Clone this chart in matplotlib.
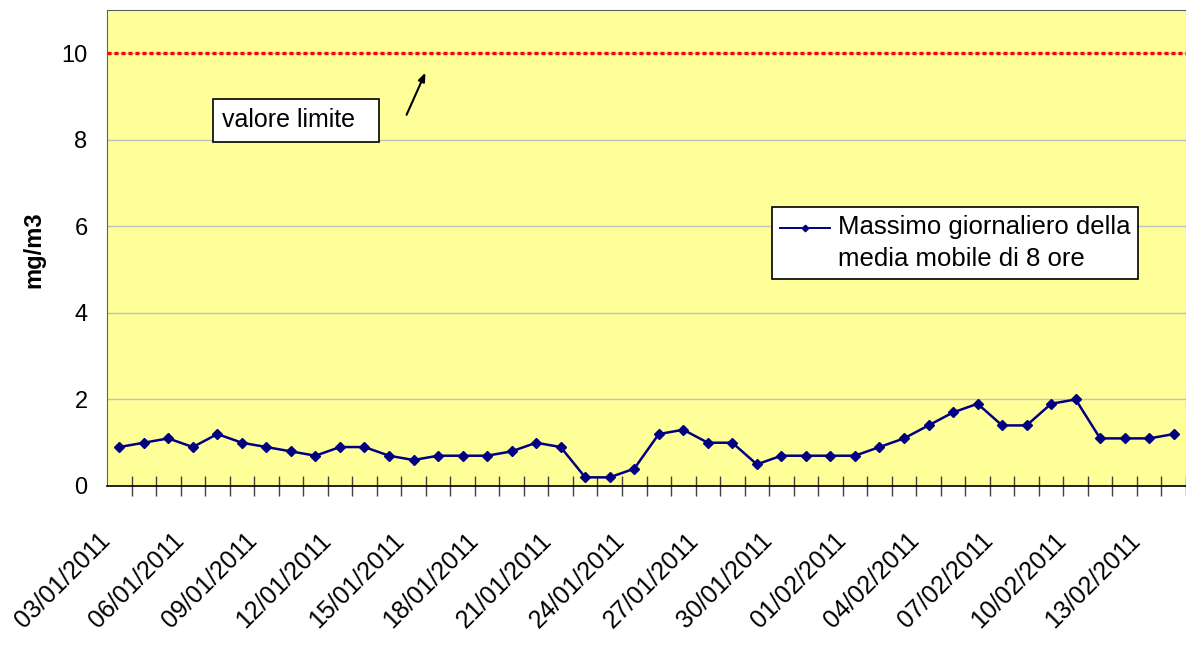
import matplotlib
matplotlib.use("Agg")
import matplotlib.pyplot as plt
from matplotlib.legend_handler import HandlerLine2D
from matplotlib.transforms import ScaledTranslation

plt.rcParams['font.family'] = ['Liberation Sans', 'DejaVu Sans']

# daily max of the 8-hour moving average (mg/m3)
values = [0.9, 1.0, 1.1, 0.9, 1.2, 1.0, 0.9, 0.8, 0.7, 0.9, 0.9, 0.7, 0.6, 0.7,
          0.7, 0.7, 0.8, 1.0, 0.9, 0.2, 0.2, 0.4, 1.2, 1.3, 1.0, 1.0, 0.5, 0.7,
          0.7, 0.7, 0.7, 0.9, 1.1, 1.4, 1.7, 1.9, 1.4, 1.4, 1.9, 2.0, 1.1, 1.1,
          1.1, 1.2]
tick_labels = ['03/01/2011', '06/01/2011', '09/01/2011', '12/01/2011', '15/01/2011',
               '18/01/2011', '21/01/2011', '24/01/2011', '27/01/2011', '30/01/2011',
               '01/02/2011', '04/02/2011', '07/02/2011', '10/02/2011', '13/02/2011']
limit_value = 10
series_name = 'Massimo giornaliero della\nmedia mobile di 8 ore'


class FirstLineHandler(HandlerLine2D):
    # put the legend key next to the first line of a two-line label
    def create_artists(self, legend, orig_handle, xdescent, ydescent,
                       width, height, fontsize, trans):
        return super().create_artists(legend, orig_handle, xdescent,
                                      ydescent - 1.25 * fontsize, width, height,
                                      fontsize, trans)


fig = plt.figure(figsize=(11.86, 6.5), dpi=100)
ax = fig.add_axes([107 / 1186, 1 - 486 / 650, 1079 / 1186, 476 / 650])
ax.set_facecolor('#FFFF99')

x = list(range(len(values)))
line, = ax.plot(x, values, color='#000080', lw=1.8, marker='D', markersize=5.5,
                label=series_name, zorder=3)

# limit line
ax.axhline(limit_value, color='#FF0000', lw=2.4, ls=(0, (1.2, 0.9)),
           dash_capstyle='butt', zorder=2)

ax.set_xlim(-0.5, len(values) - 0.5)
ax.set_ylim(0, 11)
ax.set_yticks([0, 2, 4, 6, 8, 10])
ax.yaxis.grid(True, color='#C0C0C0', lw=1)
ax.set_axisbelow(True)

ax.set_xticks(x[::3])
ax.set_xticklabels(tick_labels, rotation=45, ha='right', va='baseline',
                   rotation_mode='anchor')
ax.set_xticks([i - 0.5 for i in range(1, len(values) + 1)], minor=True)
ax.tick_params(axis='x', which='major', length=0, pad=40, labelsize=18)
ax.tick_params(axis='x', which='minor', direction='inout', length=15,
               width=1, color='#404040')
ax.tick_params(axis='y', length=0, pad=14, labelsize=17)
shift = ScaledTranslation(-0.08, 0, fig.dpi_scale_trans)
for lbl in ax.get_xticklabels():
    lbl.set_transform(lbl.get_transform() + shift)

for side in ['left', 'top', 'right']:
    ax.spines[side].set_color('#606060')
ax.spines['bottom'].set_color('black')
ax.spines['bottom'].set_linewidth(1.2)

ax.set_ylabel('mg/m3', fontsize=17, fontweight='bold')
ax.yaxis.set_label_coords(-0.057, 0.496)

# annotation
ax.text(4.2, 8.45, 'valore limite  ', fontsize=18, va='center', ha='left',
        bbox=dict(boxstyle='square,pad=0.38', fc='white', ec='black', lw=1.2))
ax.annotate('', xy=(12.53, 9.61), xytext=(11.67, 8.52),
            arrowprops=dict(arrowstyle='-|>,head_length=0.5,head_width=0.2',
                            color='black', lw=1.5))

leg = ax.legend(loc='upper left', bbox_to_anchor=(0.616, 0.586), borderaxespad=0,
                fontsize=18.5, frameon=True, fancybox=False, edgecolor='black',
                handlelength=1.95, handletextpad=0.3, borderpad=0.32,
                markerscale=0.6, handler_map={line: FirstLineHandler()})
leg.get_frame().set_linewidth(1.2)
leg.get_frame().set_alpha(1)
for t in leg.get_texts():
    t.set_linespacing(1.4)
for lh in leg.get_lines():
    lh.set_linewidth(1.4)

fig.savefig('out.png', dpi=100, facecolor='white')
